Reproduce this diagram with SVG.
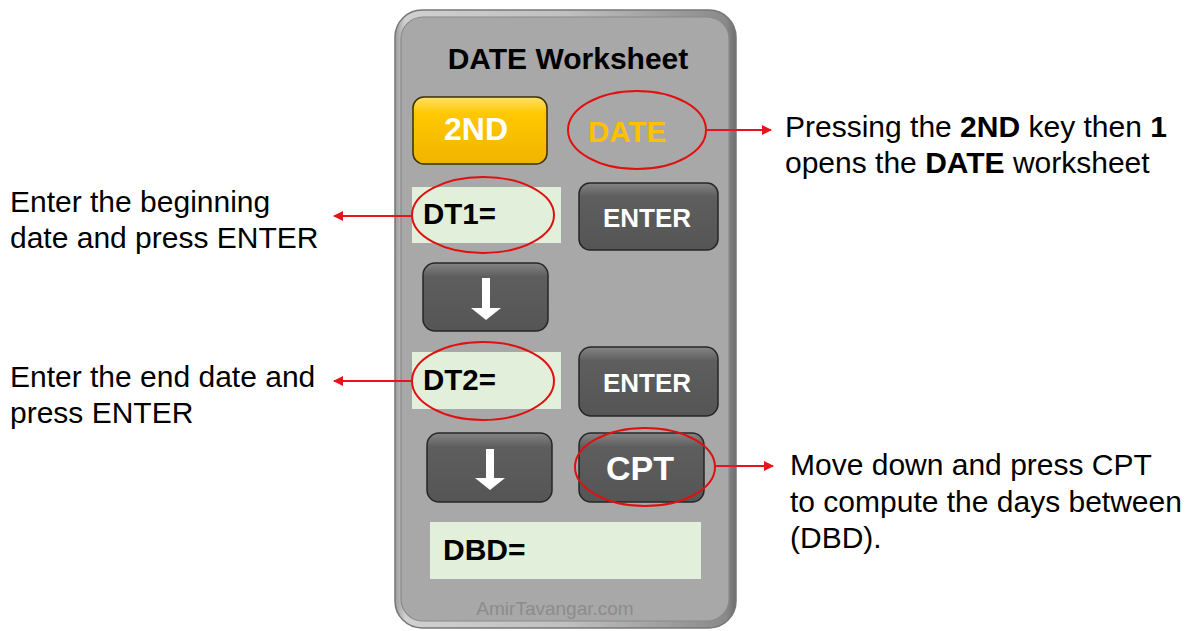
<svg xmlns="http://www.w3.org/2000/svg" width="1188" height="631" viewBox="0 0 1188 631">
<defs>
  <linearGradient id="rimG" x1="0" y1="0" x2="1" y2="0">
    <stop offset="0" stop-color="#9a9a9a"/>
    <stop offset="0.03" stop-color="#d0d0d0"/>
    <stop offset="0.5" stop-color="#c0c0c0"/>
    <stop offset="0.97" stop-color="#8a8a8a"/>
    <stop offset="1" stop-color="#6e6e6e"/>
  </linearGradient>
  <linearGradient id="darkG" x1="0" y1="0" x2="0" y2="1">
    <stop offset="0" stop-color="#858585"/>
    <stop offset="0.2" stop-color="#5e5e5e"/>
    <stop offset="1" stop-color="#555555"/>
  </linearGradient>
  <linearGradient id="yelG" x1="0" y1="0" x2="0" y2="1">
    <stop offset="0" stop-color="#ffe066"/>
    <stop offset="0.25" stop-color="#ffc800"/>
    <stop offset="1" stop-color="#f0b400"/>
  </linearGradient>
  <marker id="arr" viewBox="0 0 10 10" refX="9" refY="5" markerWidth="5" markerHeight="5" orient="auto-start-reverse" markerUnits="strokeWidth">
    <path d="M0,0 L10,5 L0,10 z" fill="#e8141b"/>
  </marker>
</defs>
<style>
  .btnD { fill: url(#darkG); stroke: #262626; stroke-width: 1.5; }
  .btnY { fill: url(#yelG); stroke: #3a3000; stroke-width: 1.5; }
  .disp { fill: #e2efda; }
  .ring { fill: none; stroke: #e01010; stroke-width: 2; }
  .kt { font-family: "Liberation Sans", Arial, sans-serif; font-weight: bold; fill: #ffffff; text-anchor: middle; }
  .dt { font-family: "Liberation Sans", Arial, sans-serif; font-weight: bold; fill: #000000; }
  .note { font-family: "Liberation Sans", Arial, sans-serif; font-size: 30px; fill: #000000; }
  .conn { stroke: #e8141b; stroke-width: 2; fill: none; marker-end: url(#arr); }
  .arrow { fill: #ffffff; }
</style>
<rect width="1188" height="631" fill="#ffffff"/>

<g id="calculator">
  <rect x="395" y="10" width="341" height="618" rx="27" fill="url(#rimG)" stroke="#777777" stroke-width="1.5"/>
  <rect x="401" y="17" width="328" height="604" rx="22" fill="#a8a8a8" stroke="#8a8a8a" stroke-width="1.2"/>
  <text x="568" y="69" class="dt" font-size="30" text-anchor="middle">DATE Worksheet</text>
  <text x="555" y="615" font-family="Liberation Sans, Arial, sans-serif" font-size="19" fill="#8c8c8c" text-anchor="middle">AmirTavangar.com</text>
</g>

<g id="key-2nd">
  <rect x="413" y="97" width="134" height="67" rx="11" class="btnY"/>
  <text x="476" y="140" class="kt" font-size="32">2ND</text>
</g>

<g id="label-date">
  <text x="627" y="142" font-family="Liberation Sans, Arial, sans-serif" font-weight="bold" font-size="29.5" fill="#ffc000" text-anchor="middle">DATE</text>
  <ellipse cx="637" cy="130" rx="69" ry="39" class="ring"/>
</g>

<g id="display-dt1">
  <rect x="412" y="187" width="149" height="56" class="disp"/>
  <text x="423" y="224" class="dt" font-size="29.5">DT1=</text>
  <ellipse cx="483" cy="215" rx="71" ry="38" class="ring"/>
</g>

<g id="key-enter-1">
  <rect x="579" y="183" width="139" height="67" rx="11" class="btnD"/>
  <text x="647" y="227" class="kt" font-size="26">ENTER</text>
</g>

<g id="key-down-1">
  <rect x="423" y="263" width="125" height="68" rx="12" class="btnD"/>
  <rect x="482" y="278" width="8" height="31" class="arrow"/>
  <polygon points="471,308 501,308 486,320" class="arrow"/>
</g>

<g id="display-dt2">
  <rect x="412" y="352" width="149" height="57" class="disp"/>
  <text x="423" y="390" class="dt" font-size="29.5">DT2=</text>
  <ellipse cx="483" cy="381" rx="71" ry="39" class="ring"/>
</g>

<g id="key-enter-2">
  <rect x="579" y="347" width="139" height="69" rx="12" class="btnD"/>
  <text x="647" y="392" class="kt" font-size="26">ENTER</text>
</g>

<g id="key-down-2">
  <rect x="427" y="433" width="125" height="69" rx="12" class="btnD"/>
  <rect x="486" y="449" width="8" height="30" class="arrow"/>
  <polygon points="475,478 505,478 490,490" class="arrow"/>
</g>

<g id="key-cpt">
  <rect x="579" y="433" width="125" height="69" rx="12" class="btnD"/>
  <text x="640" y="480" class="kt" font-size="34">CPT</text>
  <ellipse cx="645" cy="467" rx="70" ry="39" class="ring"/>
</g>

<g id="display-dbd">
  <rect x="430" y="522" width="271" height="57" class="disp"/>
  <text x="443" y="560" class="dt" font-size="30">DBD=</text>
</g>

<g id="connectors">
  <line x1="706" y1="130" x2="771" y2="130" class="conn"/>
  <line x1="412" y1="216" x2="334" y2="216" class="conn"/>
  <line x1="412" y1="381" x2="334" y2="381" class="conn"/>
  <line x1="715" y1="466" x2="773" y2="466" class="conn"/>
</g>

<g id="note-date">
  <text x="785" y="137" class="note">Pressing the <tspan font-weight="bold">2ND</tspan> key then <tspan font-weight="bold">1</tspan></text>
  <text x="785" y="173" class="note">opens the <tspan font-weight="bold">DATE</tspan> worksheet</text>
</g>
<g id="note-dt1">
  <text x="10" y="212" class="note">Enter the beginning</text>
  <text x="10" y="248" class="note">date and press ENTER</text>
</g>
<g id="note-dt2">
  <text x="10" y="387" class="note">Enter the end date and</text>
  <text x="10" y="423" class="note">press ENTER</text>
</g>
<g id="note-cpt">
  <text x="790" y="475" class="note">Move down and press CPT</text>
  <text x="790" y="512" class="note">to compute the days between</text>
  <text x="790" y="548" class="note">(DBD).</text>
</g>
</svg>
